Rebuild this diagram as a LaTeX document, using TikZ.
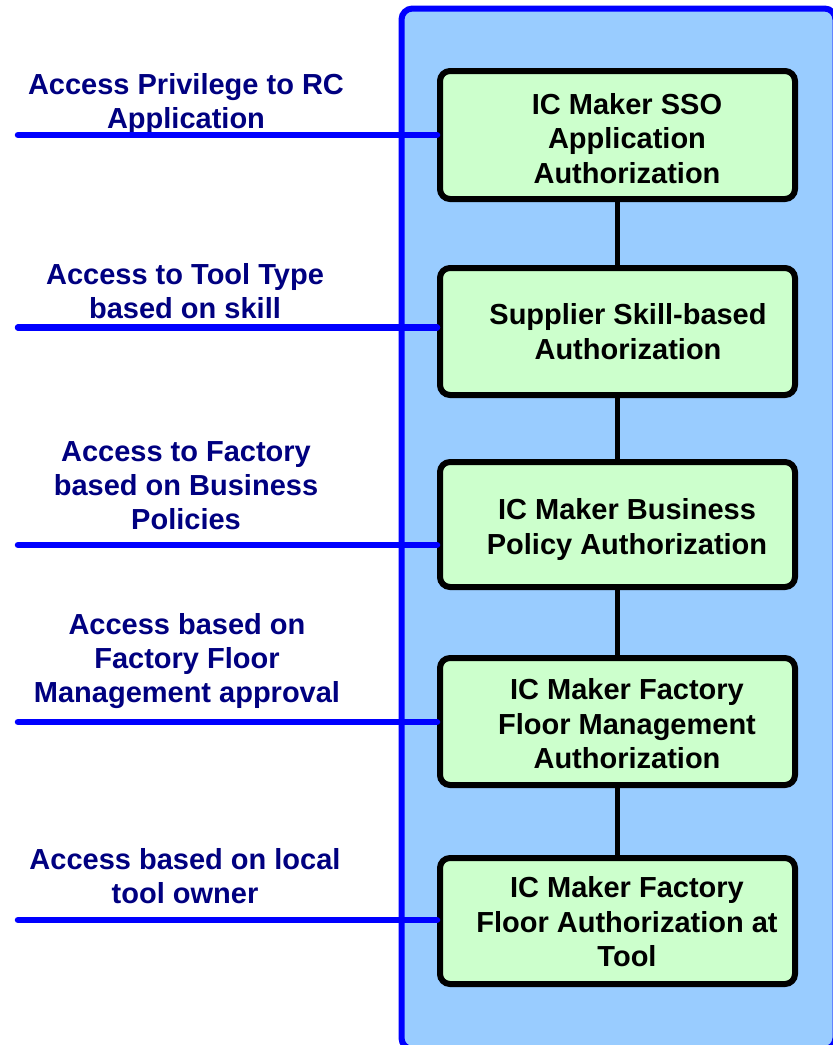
\documentclass[tikz,border=0pt]{standalone}
\usepackage{fontspec}
\setmainfont{Liberation Sans}
\definecolor{panelblue}{RGB}{153,204,255}
\definecolor{edgeblue}{RGB}{0,0,255}
\definecolor{boxgreen}{RGB}{204,255,204}
\definecolor{navytext}{RGB}{0,0,128}
\begin{document}
\begin{tikzpicture}[x=1pt,y=-1pt,
  authbox/.style={draw=black,fill=boxgreen,line width=6pt,rounded corners=10pt,
    minimum width=355pt,inner sep=0pt},
  boxtext/.style={align=center,inner sep=0pt,
    font=\fontsize{29}{34.5}\selectfont\bfseries},
  accesslabel/.style={align=center,text=navytext,inner sep=0pt,
    font=\fontsize{29}{34}\selectfont\bfseries},
  feed/.style={draw=edgeblue,line width=6.5pt,line cap=round},
  chain/.style={draw=black,line width=5.5pt}]
\useasboundingbox (0,0) rectangle (833,1045);
\clip (0,0) rectangle (833,1045);
% background panel
\draw[edgeblue,fill=panelblue,line width=6pt,rounded corners=11pt]
  (401.5,8.5) rectangle (835.5,1049);
% authorization stack
\node[authbox,minimum height=128pt] (b1) at (617.5,135) {};
\node[authbox,minimum height=127pt] (b2) at (617.5,331.5) {};
\node[authbox,minimum height=125pt] (b3) at (617.5,524.5) {};
\node[authbox,minimum height=127pt] (b4) at (617.5,721.5) {};
\node[authbox,minimum height=126pt] (b5) at (617.5,921) {};
\node[boxtext] (b1t) at (627,138.5) {IC Maker SSO\\Application\\Authorization};
\node[boxtext] (b2t) at (628,331.5) {Supplier Skill-based\\Authorization};
\node[boxtext] (b3t) at (627,529.5) {IC Maker Business\\Policy Authorization};
\node[boxtext] (b4t) at (627,724) {IC Maker Factory\\Floor Management\\Authorization};
\node[boxtext] (b5t) at (627,922) {IC Maker Factory\\Floor Authorization at\\Tool};
\draw[chain] (b1.south) -- (b2.north);
\draw[chain] (b2.south) -- (b3.north);
\draw[chain] (b3.south) -- (b4.north);
\draw[chain] (b4.south) -- (b5.north);
% access descriptions
\node[accesslabel] (t1) at (186,104) {Access Privilege to RC\\Application};
\node[accesslabel] (t2) at (185,291.5) {Access to Tool Type\\based on skill};
\node[accesslabel] (t3) at (186,486) {Access to Factory\\based on Business\\Policies};
\node[accesslabel] (t4) at (187,661.5) {Access based on\\Factory Floor\\Management approval};
\node[accesslabel] (t5) at (185,876.5) {Access based on local\\tool owner};
% feed lines into the stack
\coordinate (f1) at (18,135);
\coordinate (f2) at (18,327.5);
\coordinate (f3) at (18,545);
\coordinate (f4) at (18,722);
\coordinate (f5) at (18,920);
\draw[feed] (f1) -- (f1 -| b1.west);
\draw[feed] (f2) -- (f2 -| b2.west);
\draw[feed] (f3) -- (f3 -| b3.west);
\draw[feed] (f4) -- (f4 -| b4.west);
\draw[feed] (f5) -- (f5 -| b5.west);
\end{tikzpicture}
\end{document}
